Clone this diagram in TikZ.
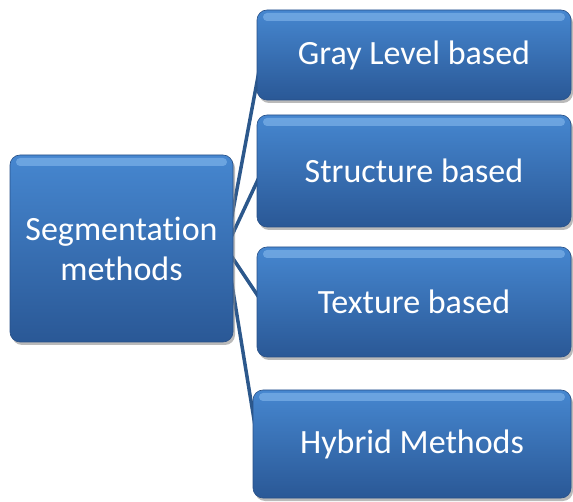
\documentclass[tikz,border=0pt]{standalone}
\usepackage{fontspec}
\setmainfont{Carlito}[Ligatures=NoCommon]
\usetikzlibrary{shadows}
\definecolor{bxtop}{RGB}{70,135,208}
\definecolor{bxmid}{RGB}{52,106,176}
\definecolor{bxbot}{RGB}{42,88,150}
\definecolor{bxedge}{RGB}{40,80,135}
\definecolor{glint}{RGB}{140,190,240}
\definecolor{linkc}{RGB}{44,88,140}
\tikzset{
  box/.style={rounded corners=10pt, top color=bxtop, middle color=bxmid, bottom color=bxbot,
    draw=bxedge, line width=0.6pt, text=white, align=center, inner sep=0pt,
    font=\fontsize{34}{40}\selectfont,
    drop shadow={shadow xshift=2pt, shadow yshift=-3pt, fill=black!45, opacity=0.6},
    path picture={
      \fill[glint, opacity=0.55, rounded corners=4pt]
        ([xshift=6pt,yshift=-3pt]path picture bounding box.north west)
        rectangle ([xshift=-6pt,yshift=-11pt]path picture bounding box.north east);
    }},
  link/.style={draw=linkc, line width=3.5pt}
}
\begin{document}
\begin{tikzpicture}[x=1pt,y=-1pt]
\useasboundingbox (0,0) rectangle (573,502);
% connector anchors (hidden behind the boxes)
\coordinate (hub) at (226,248);
\coordinate (g) at (262,55);
\coordinate (s) at (262,171);
\coordinate (t) at (262,302);
\coordinate (h) at (258,444);
\draw[link] (hub) -- (g);
\draw[link] (hub) -- (s);
\draw[link] (hub) -- (t);
\draw[link] (hub) -- (h);
\node[box, minimum width=223pt, minimum height=187pt] (seg) at (121.5,248.5) {Segmentation\\methods};
\node[box, minimum width=314pt, minimum height=90pt] (gray) at (414,55) {Gray Level based};
\node[box, minimum width=314pt, minimum height=112pt] (struct) at (414,171) {Structure based};
\node[box, minimum width=314pt, minimum height=110pt] (tex) at (414,302) {Texture based};
\node[box, minimum width=318pt, minimum height=108pt] (hyb) at (412,444) {Hybrid Methods};
\end{tikzpicture}
\end{document}
